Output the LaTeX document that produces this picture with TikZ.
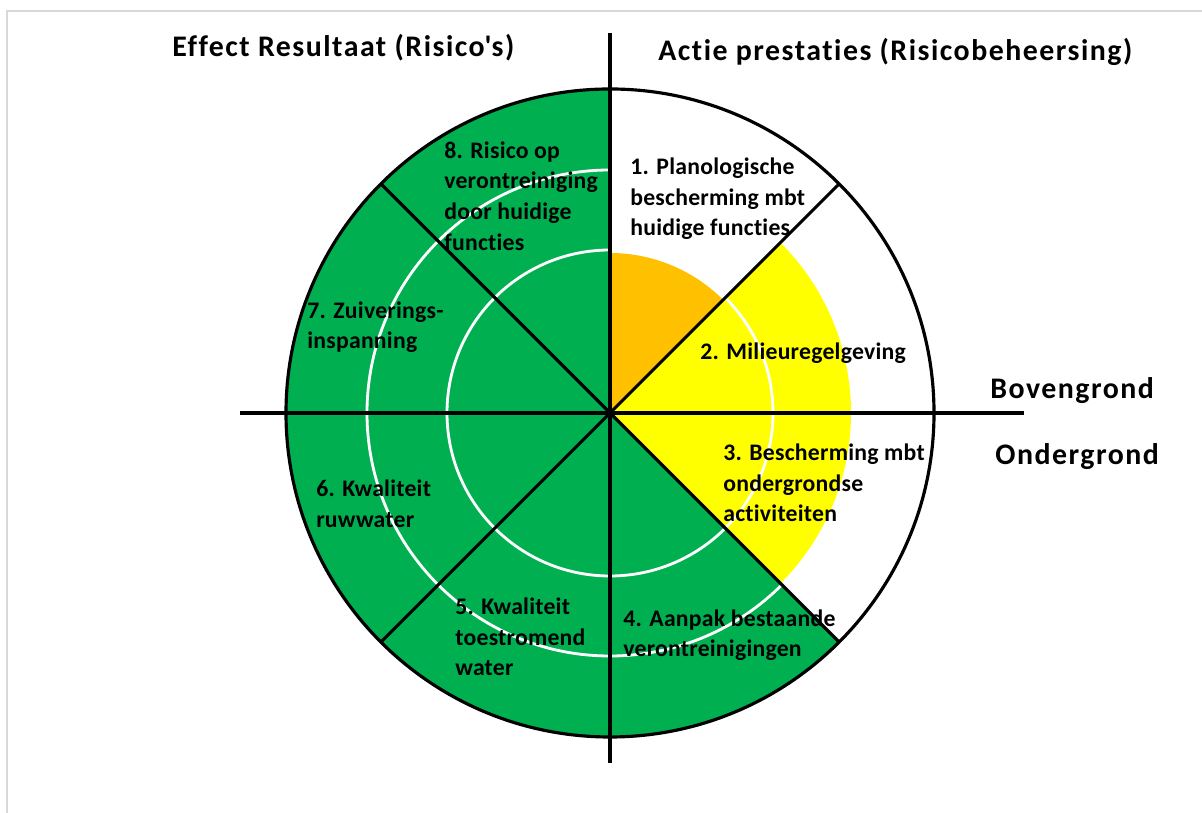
\documentclass[tikz,border=0pt]{standalone}
\usepackage{fontspec}
\setmainfont{Carlito}[Ligatures=NoCommon]
\definecolor{pgreen}{RGB}{0,176,80}
\definecolor{pyellow}{RGB}{255,255,0}
\definecolor{porange}{RGB}{255,192,0}
\definecolor{framegray}{RGB}{217,217,217}
\tikzset{
  axis/.style={draw=black,line width=2.4pt},
  spoke/.style={draw=black,line width=1.8pt},
  ring/.style={draw=white,line width=1.6pt},
  lbl/.style={anchor=west,align=left,inner sep=0pt,font=\bfseries\fontsize{13.5}{17.4}\selectfont\addfontfeatures{LetterSpace=1}},
  ttl/.style={anchor=west,inner sep=0pt,font=\bfseries\fontsize{17}{20}\selectfont\addfontfeatures{LetterSpace=5}}
}
\begin{document}
\begin{tikzpicture}[x=0.02cm,y=0.02cm]
\useasboundingbox (0,0) rectangle (1202,813);
\draw[framegray,line width=1.2pt] (7,0) -- (7,802) -- (1202,802);
\coordinate (c) at (610,400);
\coordinate (vtop) at (610,780);
\coordinate (vbot) at (610,50);
\coordinate (hleft) at (240,400);
\coordinate (hright) at (1024,400);
\begin{scope}[shift={(c)}]
% sectors
\fill[pgreen] (0,0) -- (90:324) arc[start angle=90,end angle=315,radius=324] -- cycle;
\fill[pyellow] (0,0) -- (-45:241) arc[start angle=-45,end angle=45,radius=241] -- cycle;
\fill[porange] (0,0) -- (45:160) arc[start angle=45,end angle=90,radius=160] -- cycle;
% rings
\draw[ring] (0,0) circle[radius=163];
\draw[ring] (0,0) circle[radius=243];
% spokes and rim
\foreach \a in {45,135,225,315}
  \draw[spoke] (0,0) -- (\a:324);
\draw[spoke] (0,0) circle[radius=324];
\end{scope}
\draw[axis] (vtop) -- (vbot);
\draw[axis] (hleft) -- (hright);
% labels
\node[lbl] (s1) at (630,614) {1. Planologische\\bescherming mbt\\huidige functies};
\node[lbl] (s2) at (700,460) {2. Milieuregelgeving};
\node[lbl] (s3) at (723,330) {3. Bescherming mbt\\ondergrondse\\activiteiten};
\node[lbl] (s4) at (623,178) {4. Aanpak bestaande\\verontreinigingen};
\node[lbl] (s5) at (455,176) {5. Kwaliteit\\toestromend\\water};
\node[lbl] (s6) at (316,309) {6. Kwaliteit\\ruwwater};
\node[lbl] (s7) at (307,486) {7. Zuiverings-\\inspanning};
\node[lbl] (s8) at (444,617) {8. Risico op\\verontreiniging\\door huidige\\functies};
% titles
\node[ttl] (effect) at (172,765) {Effect Resultaat (Risico\textquotesingle s)};
\node[ttl] (actie) at (658,761) {Actie prestaties (Risicobeheersing)};
\node[ttl] (boven) at (990,422) {Bovengrond};
\node[ttl] (onder) at (995,356) {Ondergrond};
\end{tikzpicture}
\end{document}
